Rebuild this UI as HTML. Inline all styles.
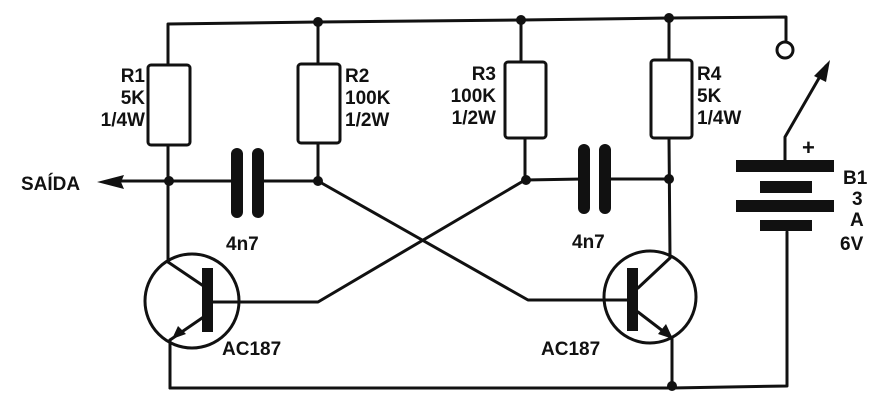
<!DOCTYPE html>
<html><head><style>
html,body{margin:0;padding:0;background:#fff}
svg{display:block}
text{font-family:"Liberation Sans",sans-serif;font-weight:bold;font-size:19px;fill:#111}
</style></head><body>
<svg width="882" height="401" viewBox="0 0 882 401" xmlns="http://www.w3.org/2000/svg">
<g stroke="#111" stroke-width="3" fill="none" stroke-linecap="round" stroke-linejoin="round">
<polyline points="168,65 168,24 318,22 521,20 669,18 786,17 786,40"/>
<circle cx="785" cy="50" r="8"/>
<rect x="148" y="65" width="42" height="80" rx="3"/>
<rect x="298" y="64" width="42" height="79" rx="3"/>
<rect x="505" y="62" width="41" height="76" rx="3"/>
<rect x="651" y="60" width="41" height="78" rx="3"/>
<line x1="318" y1="22" x2="318" y2="64"/>
<line x1="521" y1="20" x2="521" y2="62"/>
<line x1="669" y1="18" x2="669" y2="60"/>
<line x1="168" y1="145" x2="168" y2="262"/>
<line x1="318" y1="143" x2="318" y2="181"/>
<line x1="120" y1="181" x2="237" y2="181"/>
<line x1="262" y1="181" x2="318" y2="181"/>
<line x1="525" y1="138" x2="525" y2="180"/>
<line x1="669" y1="138" x2="670" y2="258"/>
<line x1="525" y1="180" x2="583" y2="179"/>
<line x1="608" y1="179" x2="669" y2="179"/>
<polyline points="318,181 528,300 628,300"/>
<polyline points="525,180 318,302 213,302"/>
<circle cx="192" cy="301" r="47"/>
<line x1="168" y1="262" x2="205" y2="287"/>
<line x1="205" y1="316" x2="170" y2="340"/>
<line x1="170" y1="340" x2="170" y2="388"/>
<circle cx="650" cy="297" r="46"/>
<line x1="670" y1="258" x2="638" y2="288"/>
<line x1="638" y1="312" x2="672" y2="338"/>
<line x1="672" y1="338" x2="672" y2="388"/>
<polyline points="170,388 672,388 787,386 787,232"/>
<polyline points="785,160 785,137 826,66"/>
</g>
<g fill="#111">
<circle cx="318" cy="22" r="5"/><circle cx="521" cy="20" r="5"/><circle cx="669" cy="18" r="5"/>
<circle cx="169" cy="181" r="5"/><circle cx="318" cy="181" r="5"/>
<circle cx="526" cy="180" r="5"/><circle cx="669" cy="179" r="5"/>
<circle cx="672" cy="386" r="5"/>
<rect x="231" y="148" width="12" height="70" rx="6"/>
<rect x="252" y="148" width="12" height="70" rx="6"/>
<rect x="578" y="144" width="12" height="70" rx="6"/>
<rect x="599" y="144" width="12" height="70" rx="6"/>
<rect x="202" y="268" width="11" height="64"/>
<rect x="627" y="268" width="11" height="63"/>
<polygon points="172,339 178,326 186,334"/>
<polygon points="673,339 658,334 666,324"/>
<polygon points="97,182 124,175 121,182 124,189"/>
<polygon points="830,60 814,76 826,82"/>
<rect x="736" y="160" width="98" height="12"/>
<rect x="760" y="181" width="52" height="12"/>
<rect x="736" y="200" width="98" height="12"/>
<rect x="760" y="220" width="52" height="11"/>
</g>
<text x="145" y="82" text-anchor="end">R1</text>
<text x="145" y="104" text-anchor="end">5K</text>
<text x="145" y="126" text-anchor="end">1/4W</text>
<text x="345" y="82">R2</text>
<text x="345" y="104">100K</text>
<text x="345" y="126">1/2W</text>
<text x="496" y="80" text-anchor="end">R3</text>
<text x="496" y="102" text-anchor="end">100K</text>
<text x="496" y="124" text-anchor="end">1/2W</text>
<text x="697" y="80">R4</text>
<text x="697" y="102">5K</text>
<text x="697" y="124">1/4W</text>
<text x="21" y="190">SAÍDA</text>
<text x="226" y="250">4n7</text>
<text x="572" y="248">4n7</text>
<text x="222" y="355">AC187</text>
<text x="541" y="355">AC187</text>
<text x="802" y="155" style="font-size:22px">+</text>
<text x="843" y="184">B1</text>
<text x="852" y="205">3</text>
<text x="850" y="226">A</text>
<text x="840" y="250">6V</text>
</svg>
</body></html>
